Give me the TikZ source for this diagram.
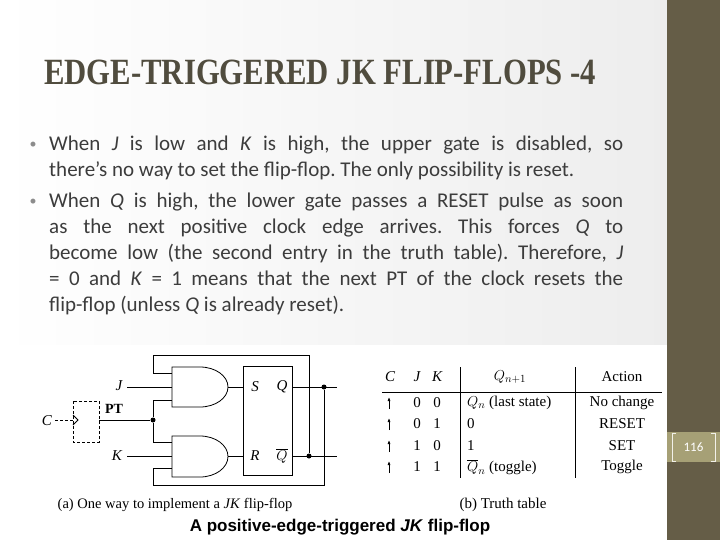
\documentclass[tikz,border=0pt]{standalone}
\usepackage{fontspec}
\setmainfont{Carlito}
\newfontfamily\tms{Liberation Serif}
\newfontfamily\hv{Liberation Sans}
\usetikzlibrary{calc,arrows.meta}
\definecolor{side}{RGB}{101,93,71}
\definecolor{band}{RGB}{166,160,118}
\definecolor{txt}{RGB}{60,60,60}
\definecolor{ttl}{RGB}{80,76,62}
\tikzset{w/.style={line width=0.8pt,black},
 dot/.style={circle,fill=black,inner sep=0pt,minimum size=5pt},
 lbl/.style={font=\tms\itshape\fontsize{15}{15}\selectfont,inner sep=0pt},
 tc/.style={font=\tms\fontsize{15}{15}\selectfont,inner sep=0pt}}
\begin{document}
\frenchspacing
\begin{tikzpicture}[x=1pt,y=-1pt]
\useasboundingbox (0,0) rectangle (720,540);
\shade[left color=white,right color=black!7] (0,0) rectangle (667,540);
\fill[white] (0,345) rectangle (667,540);
\fill[side] (667,0) rectangle (720,540);
\fill[band] (667,432) rectangle (720,462);
\draw[white!85!band,line width=1pt] (676,433) -- (672,433) -- (672,461) -- (676,461);
\draw[white!85!band,line width=1pt] (711,433) -- (715,433) -- (715,461) -- (711,461);
\node[text=white,font=\fontsize{13}{13}\selectfont] (pg) at (693.5,447) {116};
\node[anchor=west,text=ttl,font=\tms\bfseries\fontsize{37}{37}\selectfont,inner sep=0pt] (title) at (44,72) {\scalebox{0.83}[1]{EDGE-TRIGGERED JK FLIP-FLOPS -4}};
\node[anchor=north west,text=txt,inner sep=0pt,text width=574pt,align=justify,font=\fontsize{21}{26}\selectfont] (body) at (49,136) {When \textit{J} is low and \textit{K} is high, the upper gate is disabled, so\linebreak there's no way to set the flip-flop. The only possibility is reset.\par\vspace{5pt}
When \textit{Q} is high, the lower gate passes a RESET pulse as soon\linebreak as the next positive clock edge arrives. This forces \textit{Q} to\linebreak become low (the second entry in the truth table). Therefore, \textit{J}\linebreak = 0 and \textit{K} = 1 means that the next PT of the clock resets the\linebreak flip-flop (unless \textit{Q} is already reset).};
\node[text=black!45,font=\fontsize{14}{14}\selectfont] (b1) at (33,145) {•};
\node[text=black!45,font=\fontsize{14}{14}\selectfont] (b2) at (33,202) {•};
% circuit
\draw[w] (172,367) -- (200,367) arc (90:-90:28pt and 20pt) -- (172,407) -- cycle;
\draw[w] (172,436) -- (200,436) arc (90:-90:28pt and 20.5pt) -- (172,477) -- cycle;
\draw[w] (243,366) rectangle (292,475);
\node[lbl] (S) at (255,387) {S};
\node[lbl] (Q) at (282,387) {Q};
\node[lbl] (R) at (255,456) {R};
\node[lbl] (Qb) at (282,456) {$\overline{Q}$};
\draw[w,densely dashed] (73,401) rectangle (99,442);
\draw[w] (73,415) -- (78,420) -- (73,425);
\node[lbl] (C) at (47,421) {C};
\draw[w,densely dashed] (55,420) -- (73,420);
\node[tc,font=\tms\bfseries\fontsize{14}{14}\selectfont] (PT) at (114,409) {PT};
\node[dot] (pt) at (153,420) {};
\draw[w] (99,420) -- (pt);
\draw[w] (pt) |- (172,400);
\draw[w] (pt) |- (172,442);
\node[lbl] (J) at (119,386) {J};
\node[lbl] (K) at (117,456) {K};
\draw[w] (127,387) -- (172,387);
\draw[w] (127,456) -- (172,456);
\draw[w] (228,387) -- (243,387);
\draw[w] (228,456) -- (243,456);
\node[dot] (dq) at (324,387) {};
\node[dot] (dqb) at (309,456) {};
\draw[w] (292,387) -- (337,387);
\draw[w] (292,456) -- (337,456);
\draw[w] (dqb) -- (309,355) -- (153,355) -- (153,373) -- (172,373);
\draw[w] (dq) -- (324,485) -- (153,485) -- (153,468) -- (172,468);
\node[tc,font=\tms\fontsize{14.5}{14.5}\selectfont] (capa) at (175,505) {(a) One way to implement a \textit{JK} flip-flop};
\node[font=\hv\bfseries\fontsize{17}{17}\selectfont,inner sep=0pt] (capm) at (340,527) {A positive-edge-triggered \textit{JK} flip-flop};
% table
\node[lbl] (hC) at (390,377) {C};
\node[lbl] (hJ) at (417,377) {J};
\node[lbl] (hK) at (437,377) {K};
\node[lbl] (hQ) at (510,377) {$Q_{n+1}$};
\node[tc] (hA) at (622,377) {Action};
\draw[w] (382,392) -- (662,392);
\draw[w] (460,367) -- (460,478);
\draw[w] (575,367) -- (575,478);
\foreach \y/\j/\k/\a [count=\i] in {403/0/0/No change,424/0/1/RESET,446/1/0/SET,467/1/1/Toggle}{
 \draw[-{Latex[length=4pt,width=3pt]},line width=0.7pt] (389,\y+6) -- (389,\y-6);
 \node[tc] (j\i) at (417,\y) {\j};
 \node[tc] (k\i) at (437,\y) {\k};
 \node[tc] (a\i) at (622,\y) {\a};
}
\node[tc,anchor=west] (q1) at (467,403) {$Q_n$ (last state)};
\node[tc,anchor=west] (q2) at (467,424) {0};
\node[tc,anchor=west] (q3) at (467,446) {1};
\node[tc,anchor=west] (q4) at (467,467) {$\overline{Q}_n$ (toggle)};
\node[tc] (capb) at (503,505) {(b) Truth table};
\end{tikzpicture}
\end{document}
